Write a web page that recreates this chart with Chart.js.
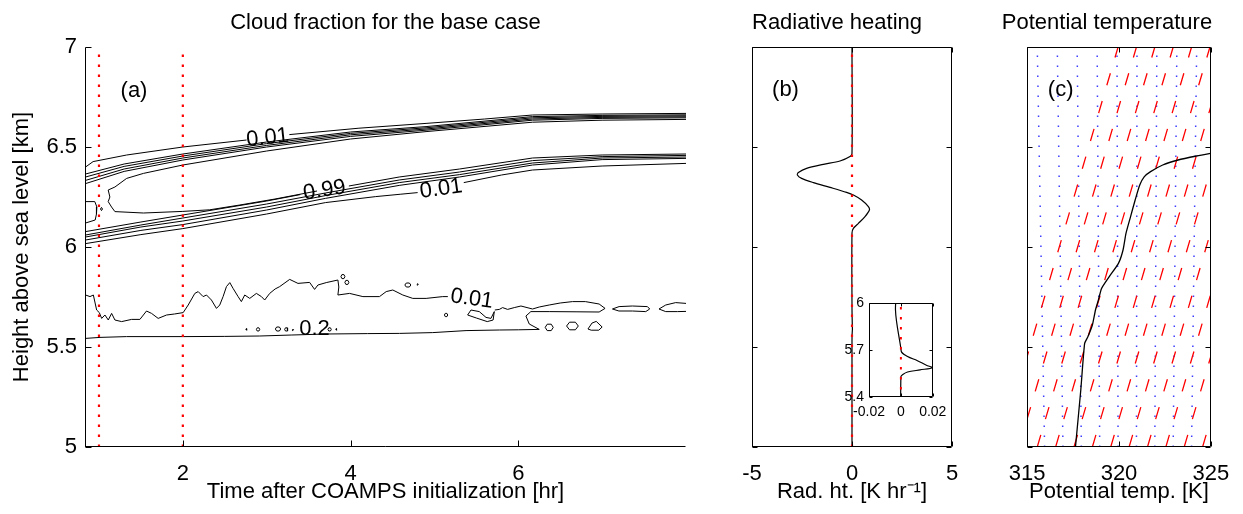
<!DOCTYPE html>
<html>
<head>
<meta charset="utf-8">
<script src="https://cdn.jsdelivr.net/npm/chart.js@4.4.1/dist/chart.umd.min.js"></script>
<style>
  body { margin: 0; background: #fff; overflow: hidden; }
  #fig { position: relative; width: 1243px; height: 514px; }
  canvas { position: absolute; top: 0; }
</style>
</head>
<body>
<div id="fig">
  <canvas id="cloudChart" width="700" height="514" style="left:0px"></canvas>
  <canvas id="heatChart" width="260" height="514" style="left:722px"></canvas>
  <canvas id="thetaChart" width="248" height="514" style="left:995px"></canvas>
  <canvas id="insetChart" width="118" height="135" style="left:835px; top:290px"></canvas>
</div>
<script>
// ---------- panel (a): cloud fraction contours, points are [time hr, height km] ----------
const timeTicks = [2, 4, 6];
const markerTimes = [1, 2];

const cfTop0a = [[0.84,6.40],[0.93,6.427],[1.33,6.46],[2.0,6.50],[2.76,6.535]];
const cfTop0b = [[3.27,6.562],[4.1,6.594],[4.9,6.618],[5.6,6.64],[6.17,6.66],[7.0,6.665],[8.0,6.668]];
const cfTop1 = [[0.84,6.365],[1.3,6.415],[2.0,6.465],[3.0,6.525],[4.0,6.575],[4.9,6.602],[6.17,6.652],[7.0,6.658],[8.0,6.661]];
const cfTop2 = [[0.84,6.35],[1.3,6.403],[2.0,6.455],[3.0,6.517],[4.0,6.568],[4.9,6.596],[6.17,6.646],[7.0,6.653],[8.0,6.656]];
const cfTop3 = [[0.84,6.333],[1.3,6.39],[2.0,6.445],[3.0,6.508],[4.0,6.561],[4.9,6.59],[6.17,6.64],[7.0,6.648],[8.0,6.651]];
const cfTop4 = [[0.84,6.317],[1.3,6.378],[2.0,6.435],[3.0,6.5],[4.0,6.553],[4.9,6.584],[6.17,6.634],[7.0,6.643],[8.0,6.646]];
const cfTongue = [[8.0,6.638],[7.0,6.634],[6.17,6.624],[4.9,6.577],[4.0,6.54],[3.0,6.48],[2.0,6.41],[1.53,6.368],
  [1.33,6.343],[1.19,6.30],[1.11,6.285],[1.13,6.25],[1.11,6.227],[1.15,6.20],[1.19,6.177],[1.53,6.17],[2.0,6.178],
  [2.32,6.186],[2.68,6.21],[3.1,6.24],[3.45,6.268],[3.6,6.28]];
const cfBot0a = [[0.84,6.077],[1.5,6.125],[2.0,6.16],[3.0,6.23],[3.4,6.262]];
const cfBot0b = [[3.98,6.305],[4.58,6.35],[5.3,6.39],[6.17,6.445],[7.0,6.46],[8.0,6.465]];
const cfBot1 = [[0.84,6.06],[1.5,6.11],[2.0,6.145],[3.0,6.215],[3.7,6.27],[4.58,6.335],[5.3,6.375],[6.17,6.432],[7.0,6.452],[8.0,6.458]];
const cfBot2 = [[0.84,6.05],[1.5,6.1],[2.0,6.13],[3.0,6.2],[3.7,6.257],[4.58,6.322],[5.3,6.362],[6.17,6.42],[7.0,6.445],[8.0,6.45]];
const cfBot3 = [[0.84,6.035],[1.5,6.083],[2.0,6.112],[3.0,6.185],[3.7,6.243],[4.58,6.308],[5.3,6.35],[6.17,6.41],[7.0,6.437],[8.0,6.443]];
const cfBot4a = [[0.84,6.017],[1.5,6.062],[2.0,6.092],[3.0,6.165],[3.7,6.222],[4.3,6.252],[4.6,6.264],[4.8,6.272]];
const cfBot4b = [[5.35,6.322],[5.8,6.36],[6.17,6.385],[7.0,6.405],[8.0,6.418]];
const cfEdgeBlob = [[0.84,6.227],[0.95,6.227],[0.975,6.2],[0.97,6.165],[0.955,6.135],[0.84,6.12]];
const cfEdgeRing = [[1.018,6.19],[1.03,6.198],[1.042,6.19],[1.03,6.182],[1.018,6.19]];

const lowTopA = [[0.84,5.76],[0.893,5.752],[0.933,5.76],[0.972,5.685],[1.004,5.672],[1.032,5.643],[1.071,5.66],[1.111,5.635],
  [1.151,5.668],[1.19,5.635],[1.27,5.627],[1.389,5.638],[1.488,5.638],[1.567,5.68],[1.627,5.668],[1.706,5.643],[1.806,5.66],
  [1.9,5.665],[2.004,5.672],[2.064,5.71],[2.143,5.768],[2.183,5.777],[2.242,5.752],[2.282,5.76],[2.341,5.735],[2.401,5.693],
  [2.44,5.71],[2.48,5.752],[2.52,5.802],[2.56,5.822],[2.599,5.793],[2.659,5.752],[2.698,5.727],[2.738,5.76],[2.798,5.743],
  [2.877,5.768],[2.937,5.752],[2.976,5.735],[3.036,5.768],[3.1,5.79],[3.155,5.802],[3.274,5.838],[3.373,5.818],[3.512,5.823],
  [3.571,5.788],[3.611,5.81],[3.71,5.822],[3.849,5.835],[3.86,5.8],[3.849,5.76],[3.988,5.768],[4.147,5.752],[4.345,5.752],
  [4.425,5.777],[4.504,5.785],[4.623,5.76],[4.742,5.743],[4.901,5.743],[5.099,5.752],[5.16,5.752]];
const lowTopB = [[5.72,5.685],[5.774,5.688],[5.813,5.697],[5.873,5.688],[5.952,5.697],[6.032,5.705],[6.17,5.69],[6.25,5.7],
  [6.369,5.71],[6.5,5.72],[6.646,5.727],[6.8,5.727],[6.964,5.715],[7.035,5.693],[6.964,5.675],[6.7,5.676],[6.369,5.677],
  [6.15,5.677],[6.091,5.655],[6.131,5.615],[6.25,5.588],[6.0,5.586],[5.774,5.585],[5.377,5.582],[4.98,5.572],[4.583,5.568],
  [4.2,5.567],[3.71,5.565],[3.3,5.56],[2.917,5.555],[2.5,5.553],[2.004,5.552],[1.329,5.552],[1.012,5.548],[0.84,5.543]];
const lowBlob = [[5.396,5.66],[5.436,5.685],[5.535,5.677],[5.615,5.648],[5.674,5.643],[5.714,5.677],[5.70,5.635],[5.63,5.627],[5.5,5.645],[5.396,5.66]];
const lowBlobA = [[7.123,5.69],[7.202,5.702],[7.361,5.705],[7.54,5.702],[7.567,5.69],[7.52,5.677],[7.361,5.68],[7.2,5.68],[7.123,5.69]];
const lowBlobB = [[8.0,5.718],[7.877,5.722],[7.758,5.71],[7.678,5.69],[7.758,5.677],[7.9,5.677],[8.0,5.678]];
const lowRings = [
  [[2.752,5.588],[2.758,5.592],[2.764,5.588],[2.758,5.584],[2.752,5.588]],
  [[2.877,5.588],[2.887,5.596],[2.907,5.596],[2.917,5.588],[2.907,5.58],[2.887,5.58],[2.877,5.588]],
  [[3.103,5.59],[3.119,5.6],[3.151,5.6],[3.167,5.59],[3.151,5.58],[3.119,5.58],[3.103,5.59]],
  [[3.214,5.588],[3.224,5.596],[3.244,5.596],[3.254,5.588],[3.244,5.58],[3.224,5.58],[3.214,5.588]],
  [[3.307,5.586],[3.313,5.59],[3.319,5.586],[3.313,5.582],[3.307,5.586]],
  [[3.73,5.588],[3.74,5.596],[3.76,5.596],[3.77,5.588],[3.76,5.58],[3.74,5.58],[3.73,5.588]],
  [[3.824,5.588],[3.83,5.592],[3.836,5.588],[3.83,5.584],[3.824,5.588]],
  [[3.885,5.852],[3.897,5.862],[3.921,5.862],[3.933,5.852],[3.921,5.842],[3.897,5.842],[3.885,5.852]],
  [[3.932,5.823],[3.944,5.833],[3.968,5.833],[3.98,5.823],[3.968,5.813],[3.944,5.813],[3.932,5.823]],
  [[4.647,5.81],[4.665,5.82],[4.701,5.82],[4.719,5.81],[4.701,5.8],[4.665,5.8],[4.647,5.81]],
  [[4.794,5.813],[4.8,5.817],[4.806,5.813],[4.8,5.809],[4.794,5.813]],
  [[5.119,5.66],[5.129,5.668],[5.149,5.668],[5.159,5.66],[5.149,5.652],[5.129,5.652],[5.119,5.66]],
  [[6.321,5.598],[6.345,5.614],[6.393,5.614],[6.417,5.598],[6.393,5.582],[6.345,5.582],[6.321,5.598]],
  [[6.576,5.605],[6.611,5.624],[6.681,5.624],[6.716,5.605],[6.681,5.586],[6.611,5.586],[6.576,5.605]],
  [[6.831,5.59],[6.88,5.62],[6.93,5.628],[7.0,5.6],[6.96,5.584],[6.87,5.584],[6.831,5.59]]
];

const contourLabels = [
  { text: '0.01', x: 3.01, y: 6.545, rot: -6 },
  { text: '0.99', x: 3.69, y: 6.283, rot: -9 },
  { text: '0.01', x: 5.08, y: 6.29, rot: -8 },
  { text: '0.01', x: 5.446, y: 5.74, rot: 8 },
  { text: '0.2', x: 3.57, y: 5.592, rot: 0 }
];

// ---------- panel (b): radiative heating profile [K/hr] vs height [km] ----------
const heatHeights = [7.0, 6.468, 6.452, 6.43, 6.413, 6.393, 6.372, 6.36, 6.343, 6.322, 6.298, 6.273, 6.26, 6.235,
  6.202, 6.185, 6.152, 6.118, 6.093, 6.07, 5.694, 5.66, 5.634, 5.604, 5.588, 5.574, 5.56, 5.544, 5.53, 5.0];
const heating = [0, 0, -0.1, -0.6, -1.43, -2.27, -2.68, -2.73, -2.52, -1.93, -1.1, -0.27, 0.07, 0.48,
  0.82, 0.87, 0.65, 0.32, 0.07, 0, 0.0002, 0.0042, 0.0101, 0.016, 0.0198, 0.012, 0.0042, 0.0012, 0, 0];
const insetXTicks = [-0.02, 0, 0.02];
const insetYTicks = [5.4, 5.7, 6];

// ---------- panel (c): potential temperature [K] vs height [km] ----------
const thetaHeights = [5.0, 5.285, 5.518, 5.55, 5.61, 5.685, 5.735, 5.793, 5.852, 5.918, 5.985, 6.068, 6.152, 6.235,
  6.31, 6.352, 6.377, 6.41, 6.435, 6.455, 6.468, 6.478];
const theta = [317.63, 317.92, 318.13, 318.3, 318.55, 318.72, 318.88, 319.05, 319.47, 319.97, 320.22, 320.38, 320.63, 320.88,
  321.13, 321.38, 321.72, 322.38, 323.22, 324.22, 324.98, 325.6];
// red dashed guide lines: theta at 5 km and at 7 km
const redGuideBase = [313.55, 314.55, 315.55, 316.55, 317.55, 318.55, 319.55, 320.55, 321.55, 322.55, 323.55, 324.55];
const redGuideTop = [319.95, 320.95, 321.95, 322.95, 323.95, 324.95, 325.95, 326.95, 327.95, 328.95, 329.95, 330.95];
// blue dotted guide lines: theta at 5 km and at 7 km
const blueGuideBase = [315.95, 316.95, 317.95, 318.95, 319.95, 320.95, 321.95, 322.95, 323.95];
const blueGuideTop = [315.55, 316.64, 317.72, 318.81, 319.89, 320.98, 322.06, 323.15, 324.23];

// ---------- helpers ----------
const FONT = '"Liberation Sans", Arial, Helvetica, sans-serif';
Chart.defaults.font.family = FONT;
Chart.defaults.color = '#000';

function line(data, color, width, dash, tension) {
  return { data: data, showLine: true, borderColor: color, borderWidth: width, borderDash: dash || [],
    pointRadius: 0, tension: tension || 0, fill: false };
}
function pairs(xs, ys) {
  return xs.map((v, i) => ({ x: v, y: ys[i] }));
}
function fixWidth(w) { return scale => { scale.width = w; }; }
function fixHeight(h) { return scale => { scale.height = h; }; }
function useTicks(values) { return scale => { scale.ticks = values.map(v => ({ value: v })); }; }
// matlab style labels: 6 not 6.0
function plainLabel(v) { return String(Number(Number(v).toFixed(3))); }

// box, inward tick marks, optional white fill of the plot area
const matlabAxes = {
  id: 'matlabAxes',
  beforeDatasetsDraw(chart, args, opts) {
    if (!opts.fill) return;
    const a = chart.chartArea;
    chart.ctx.save();
    chart.ctx.fillStyle = '#fff';
    chart.ctx.fillRect(a.left, a.top, a.right - a.left, a.bottom - a.top);
    chart.ctx.restore();
  },
  afterDatasetsDraw(chart, args, opts) {
    const { ctx, chartArea: a, scales } = chart;
    const sides = opts.sides || ['left', 'right', 'top', 'bottom'];
    const len = opts.tickLen || 5;
    const l = Math.round(a.left) + 0.5, r = Math.round(a.right) - 0.5;
    const t = Math.round(a.top) + 0.5, b = Math.round(a.bottom) - 0.5;
    ctx.save();
    ctx.strokeStyle = '#000';
    ctx.lineWidth = 1;
    ctx.setLineDash([]);
    ctx.beginPath();
    if (sides.includes('left')) { ctx.moveTo(l, t); ctx.lineTo(l, b); }
    if (sides.includes('right')) { ctx.moveTo(r, t); ctx.lineTo(r, b); }
    if (sides.includes('top')) { ctx.moveTo(l, t); ctx.lineTo(r, t); }
    if (sides.includes('bottom')) { ctx.moveTo(l - 0.5, b); ctx.lineTo(r, b); }
    scales.x.ticks.forEach(tk => {
      const px = Math.round(scales.x.getPixelForValue(tk.value)) + 0.5;
      if (sides.includes('bottom')) { ctx.moveTo(px, b); ctx.lineTo(px, b - len); }
      if (sides.includes('top')) { ctx.moveTo(px, t); ctx.lineTo(px, t + len); }
    });
    scales.y.ticks.forEach(tk => {
      const py = Math.round(scales.y.getPixelForValue(tk.value)) + 0.5;
      if (sides.includes('left')) { ctx.moveTo(l, py); ctx.lineTo(l + len, py); }
      if (sides.includes('right')) { ctx.moveTo(r, py); ctx.lineTo(r - len, py); }
    });
    ctx.stroke();
    ctx.restore();
  }
};

// contour labels and the panel letter
const textMarks = {
  id: 'textMarks',
  afterDatasetsDraw(chart, args, opts) {
    const { ctx, chartArea, scales: { x, y } } = chart;
    ctx.save();
    ctx.fillStyle = '#000';
    ctx.textAlign = 'center';
    ctx.textBaseline = 'middle';
    ctx.font = opts.font;
    (opts.items || []).forEach(item => {
      ctx.save();
      ctx.translate(x.getPixelForValue(item.x), y.getPixelForValue(item.y));
      ctx.rotate(item.rot * Math.PI / 180);
      ctx.fillText(item.text, 0, 0);
      ctx.restore();
    });
    if (opts.panel) ctx.fillText(opts.panel, chartArea.left + opts.dx, chartArea.top + opts.dy);
    ctx.restore();
  }
};

function titleOpts(text, full) {
  return { display: true, text: text, fullSize: full, color: '#000',
    font: { size: 22, weight: 'normal' }, padding: { top: 10, bottom: 10.6 } };
}
function xScale(min, max, label, extra) {
  return Object.assign({
    type: 'linear', min: min, max: max,
    afterFit: fixHeight(67),
    grid: { display: false, drawTicks: false }, border: { display: false },
    ticks: { font: { size: 22 }, padding: 13.8, stepSize: 5, maxRotation: 0, minRotation: 0, callback: plainLabel },
    title: { display: true, text: label, font: { size: 22 }, padding: { top: 0, bottom: 8.8 } }
  }, extra || {});
}
function baseOptions(padRight) {
  return { responsive: false, animation: false, events: [],
    layout: { autoPadding: false, padding: { right: padRight } } };
}

// ---------- chart (a) ----------
const cloudSets = [];
markerTimes.forEach(t => cloudSets.push(line([[t, 5], [t, 7]], 'rgb(255,0,0)', 2.2, [2.5, 7.5])));
[cfTop0a, cfTop0b, cfTop1, cfTop2, cfTop3, cfTop4, cfTongue, cfBot0a, cfBot0b, cfBot1, cfBot2, cfBot3, cfBot4a, cfBot4b,
  cfEdgeBlob, cfEdgeRing, lowTopA, lowTopB, lowBlob, lowBlobA, lowBlobB].forEach(c => cloudSets.push(line(c, '#000', 1)));
lowRings.forEach(c => cloudSets.push(line(c, '#000', 1)));

new Chart(document.getElementById('cloudChart'), {
  type: 'scatter',
  data: { datasets: cloudSets },
  plugins: [matlabAxes, textMarks],
  options: Object.assign(baseOptions(14), {
    plugins: {
      legend: { display: false }, tooltip: { enabled: false },
      title: titleOpts('Cloud fraction for the base case', false),
      matlabAxes: { sides: ['left', 'bottom'], tickLen: 6 },
      textMarks: { font: '22px ' + FONT, items: contourLabels, panel: '(a)', dx: 49, dy: 44 }
    },
    scales: {
      x: xScale(5 / 6, 8, 'Time after COAMPS initialization [hr]', { afterBuildTicks: useTicks(timeTicks) }),
      y: {
        type: 'linear', min: 5, max: 7, afterFit: fixWidth(85),
        grid: { display: false, drawTicks: false }, border: { display: false },
        ticks: { stepSize: 0.5, font: { size: 22 }, padding: 8, callback: plainLabel },
        title: { display: true, text: 'Height above sea level [km]', font: { size: 22 }, padding: { top: 8.8, bottom: 0 } }
      }
    }
  })
});

// ---------- chart (b) ----------
const heatProfile = pairs(heating, heatHeights);
const zeroLine = [{ x: 0, y: 5 }, { x: 0, y: 7 }];

new Chart(document.getElementById('heatChart'), {
  type: 'scatter',
  data: { datasets: [
    line(zeroLine, 'rgb(255,0,0)', 2.2, [2.5, 7.5]),
    line(heatProfile, '#000', 1.2, [], 0.3)
  ] },
  plugins: [matlabAxes, textMarks],
  options: Object.assign(baseOptions(30), {
    plugins: {
      legend: { display: false }, tooltip: { enabled: false },
      title: titleOpts('Radiative heating', true),
      matlabAxes: { tickLen: 5 },
      textMarks: { font: '22px ' + FONT, panel: '(b)', dx: 33.5, dy: 43 }
    },
    scales: {
      x: xScale(-5, 5, 'Rad. ht. [K hr\u207B\u00B9]'),
      y: { type: 'linear', min: 5, max: 7, afterFit: fixWidth(30),
        grid: { display: false, drawTicks: false }, border: { display: false },
        ticks: { display: false, stepSize: 0.5 } }
    }
  })
});

// ---------- inset of (b) ----------
new Chart(document.getElementById('insetChart'), {
  type: 'scatter',
  data: { datasets: [
    line(zeroLine, 'rgb(255,0,0)', 2, [2.5, 7.5]),
    line(heatProfile, '#000', 1.2, [], 0.3)
  ] },
  plugins: [matlabAxes],
  options: Object.assign(baseOptions(16), {
    layout: { autoPadding: false, padding: { right: 16, top: 7 } },
    plugins: {
      legend: { display: false }, tooltip: { enabled: false },
      matlabAxes: { tickLen: 3, fill: true }
    },
    scales: {
      x: { type: 'linear', min: -0.02, max: 0.02, afterBuildTicks: useTicks(insetXTicks), afterFit: fixHeight(28),
        grid: { display: false, drawTicks: false }, border: { display: false },
        ticks: { font: { size: 14 }, padding: 6.6, maxRotation: 0, minRotation: 0, autoSkip: false, callback: plainLabel } },
      y: { type: 'linear', min: 5.4, max: 6, afterBuildTicks: useTicks(insetYTicks), afterFit: fixWidth(34),
        grid: { display: false, drawTicks: false }, border: { display: false },
        ticks: { font: { size: 14 }, padding: 5, callback: plainLabel } }
    }
  })
});

// ---------- chart (c) ----------
const thetaSets = [line(pairs(theta, thetaHeights), '#000', 1.3, [], 0.2)];
redGuideBase.forEach((v, i) => thetaSets.push(line([{ x: v, y: 5 }, { x: redGuideTop[i], y: 7 }], 'rgb(255,0,0)', 1.3, [12.6, 16.4])));
blueGuideBase.forEach((v, i) => thetaSets.push(line([{ x: v, y: 5 }, { x: blueGuideTop[i], y: 7 }], 'rgba(40,40,255,0.9)', 1.5, [1.5, 8.5])));

new Chart(document.getElementById('thetaChart'), {
  type: 'scatter',
  data: { datasets: thetaSets },
  plugins: [matlabAxes, textMarks],
  options: Object.assign(baseOptions(24), {
    plugins: {
      legend: { display: false }, tooltip: { enabled: false },
      title: titleOpts('Potential temperature', true),
      matlabAxes: { tickLen: 5 },
      textMarks: { font: '22px ' + FONT, panel: '(c)', dx: 33.5, dy: 43 }
    },
    scales: {
      x: xScale(315, 325, 'Potential temp. [K]'),
      y: { type: 'linear', min: 5, max: 7, afterFit: fixWidth(24),
        grid: { display: false, drawTicks: false }, border: { display: false },
        ticks: { display: false, stepSize: 0.5 } }
    }
  })
});
</script>
</body>
</html>
